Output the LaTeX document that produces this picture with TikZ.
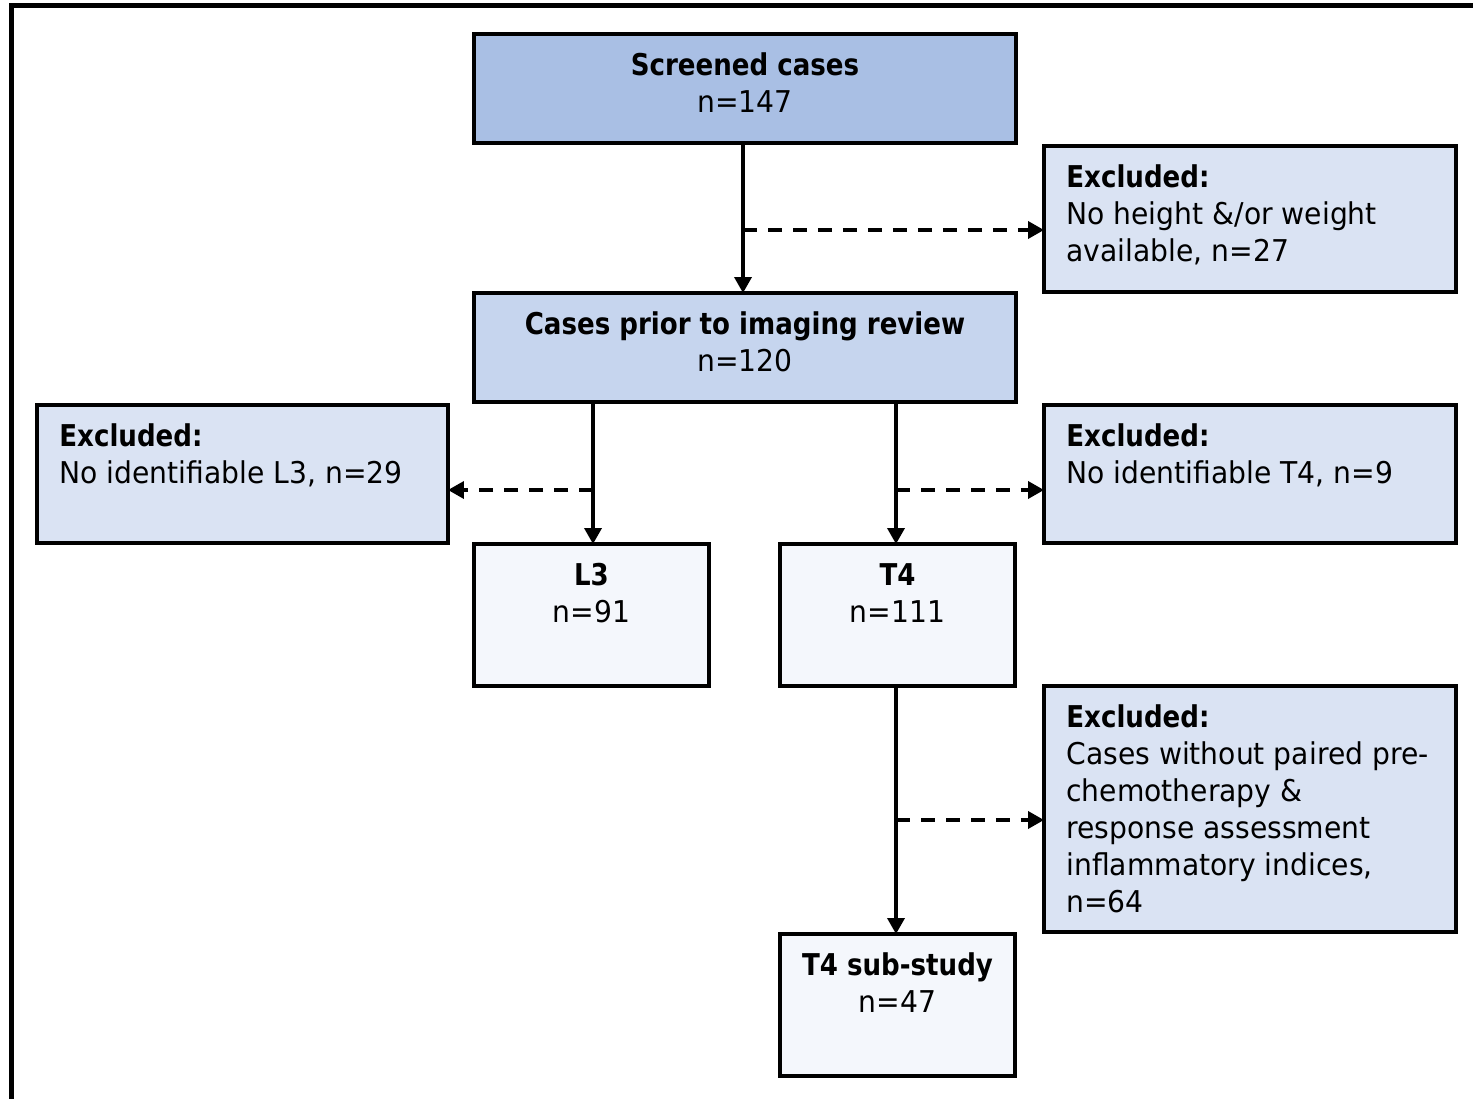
\documentclass[tikz,border=0pt]{standalone}
\usepackage{fontspec}
\setmainfont{DejaVu Sans}[FakeStretch=0.94, BoldFeatures={FakeStretch=0.87}]
\usetikzlibrary{arrows.meta,calc}
\definecolor{topblue}{HTML}{A9BFE4}
\definecolor{midblue}{HTML}{C6D5EE}
\definecolor{exblue}{HTML}{DAE3F3}
\definecolor{paleblue}{HTML}{F4F7FC}
\begin{document}
\begin{tikzpicture}[x=0.02cm, y=-0.02cm,
  flowbox/.style={draw=black, line width=0.065cm, inner sep=0pt, outer sep=0pt},
  boxtext/.style={inner sep=0pt, font=\fontsize{17.07pt}{21.05pt}\selectfont},
  ctext/.style={boxtext, anchor=base, align=center},
  ltext/.style={boxtext, anchor=base west, align=left},
  flow/.style={line width=0.07cm, -{Triangle[length=0.32cm,width=0.34cm]}},
  dflow/.style={flow, dash pattern=on 0.28cm off 0.22cm}]
\useasboundingbox (0,0) rectangle (1473,1098);
\clip (0,0) rectangle (1473,1098);
% frame
\draw[line width=0.1cm] (11.7,1120) -- (11.7,6) -- (1490,6);
% boxes
\node[flowbox, fill=topblue, minimum width=10.84cm, minimum height=2.18cm] (scr) at (745,88.5) {};
\node[flowbox, fill=exblue, minimum width=8.24cm, minimum height=2.92cm] (ex1) at (1250,219) {};
\node[flowbox, fill=midblue, minimum width=10.84cm, minimum height=2.18cm] (pre) at (745,347.5) {};
\node[flowbox, fill=exblue, minimum width=8.22cm, minimum height=2.76cm] (exl) at (242.5,474) {};
\node[flowbox, fill=exblue, minimum width=8.24cm, minimum height=2.76cm] (ext) at (1250,474) {};
\node[flowbox, fill=paleblue, minimum width=4.70cm, minimum height=2.84cm] (l3) at (591.5,615) {};
\node[flowbox, fill=paleblue, minimum width=4.70cm, minimum height=2.84cm] (t4) at (897.5,615) {};
\node[flowbox, fill=exblue, minimum width=8.24cm, minimum height=4.92cm] (ex3) at (1250,809) {};
\node[flowbox, fill=paleblue, minimum width=4.70cm, minimum height=2.84cm] (sub) at (897.5,1005) {};
% texts (anchored at the baseline of their last line; lines are 37.1 units apart)
\node[ctext] (scrT) at ($(scr.north)+(0,78)$) {\textbf{Screened cases}\\n=147};
\node[ctext] (preT) at ($(pre.north)+(0,78)$) {\textbf{Cases prior to imaging review}\\n=120};
\node[ctext] (l3T) at ($(l3.north)+(0,78)$) {\textbf{L3}\\n=91};
\node[ctext] (t4T) at ($(t4.north)+(0,78)$) {\textbf{T4}\\n=111};
\node[ctext] (subT) at ($(sub.north)+(0,78)$) {\textbf{T4 sub-study}\\n=47};
\node[ltext] (ex1T) at ($(ex1.north west)+(22,115)$) {\textbf{Excluded:}\\No height \&/or weight\\available, n=27};
\node[ltext] (exlT) at ($(exl.north west)+(22,78)$) {\textbf{Excluded:}\\No identifiable L3, n=29};
\node[ltext] (extT) at ($(ext.north west)+(22,78)$) {\textbf{Excluded:}\\No identifiable T4, n=9};
\node[ltext] (ex3T) at ($(ex3.north west)+(22,226.5)$) {\textbf{Excluded:}\\Cases without paired pre-\\chemotherapy \&\\response assessment\\inflammatory indices,\\n=64};
% connectors
\coordinate (j1) at (743,230);
\coordinate (j2) at (593,490);
\coordinate (j3) at (896,490);
\coordinate (j4) at (896,820);
\draw[flow] (scr.south -| j1) -- (pre.north -| j1);
\draw[dflow] (j1) -- (j1 -| ex1.west);
\draw[flow] (pre.south -| j2) -- (l3.north -| j2);
\draw[dflow] (j2) -- (j2 -| exl.east);
\draw[flow] (pre.south -| j3) -- (t4.north -| j3);
\draw[dflow] (j3) -- (j3 -| ext.west);
\draw[flow] (t4.south -| j4) -- (sub.north -| j4);
\draw[dflow] (j4) -- (j4 -| ex3.west);
\end{tikzpicture}
\end{document}
